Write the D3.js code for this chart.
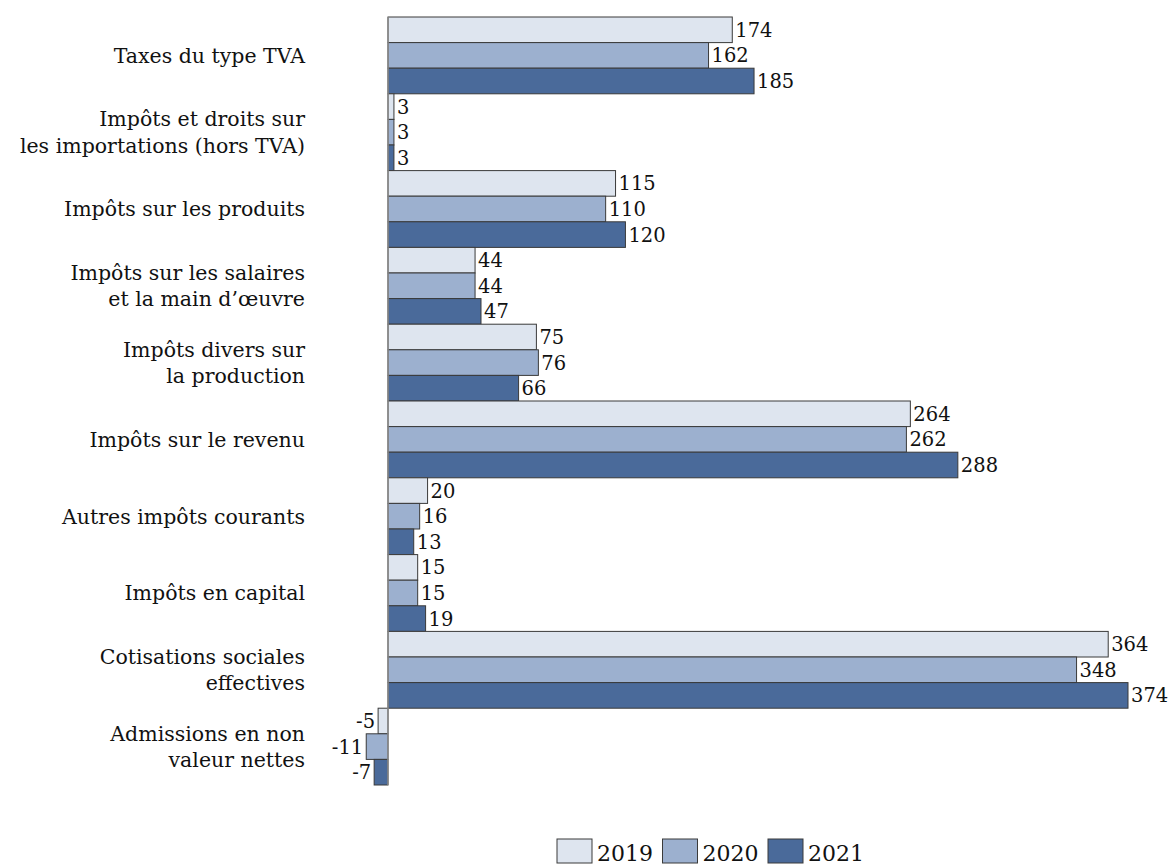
<!DOCTYPE html>
<html>
<head>
<meta charset="utf-8">
<script src="https://cdn.jsdelivr.net/npm/d3@7"></script>
<style>
  html, body { margin: 0; padding: 0; background: #fff; }
  svg { display: block; }
</style>
</head>
<body>
<svg id="chart" width="1174" height="866"></svg>
<script>
// Categories (each label may span two lines)
const categories = [
  ["Taxes du type TVA"],
  ["Impôts et droits sur", "les importations (hors TVA)"],
  ["Impôts sur les produits"],
  ["Impôts sur les salaires", "et la main d\u2019œuvre"],
  ["Impôts divers sur", "la production"],
  ["Impôts sur le revenu"],
  ["Autres impôts courants"],
  ["Impôts en capital"],
  ["Cotisations sociales", "effectives"],
  ["Admissions en non", "valeur nettes"]
];
const years = ["2019", "2020", "2021"];
const values2019 = [174, 3, 115, 44, 75, 264, 20, 15, 364, -5];
const values2020 = [162, 3, 110, 44, 76, 262, 16, 15, 348, -11];
const values2021 = [185, 3, 120, 47, 66, 288, 13, 19, 374, -7];
const seriesValues = [values2019, values2020, values2021];
const colors = ["#dee5ef", "#9cb0cf", "#4a6a9a"];

const FONT = "DejaVu Serif";
const svg = d3.select("#chart");

const x = d3.scaleLinear().domain([0, 374]).range([388, 1128]);
const y0 = d3.scaleBand().domain(d3.range(categories.length)).range([17, 785]).padding(0);
const y1 = d3.scaleBand().domain(d3.range(years.length)).range([0, y0.bandwidth()]).padding(0);

const groups = svg.append("g").selectAll("g")
  .data(categories)
  .join("g")
  .attr("transform", (d, i) => `translate(0,${y0(i)})`);

// Bars and value labels
groups.each(function(cat, i) {
  const g = d3.select(this);
  years.forEach((yr, s) => {
    const v = seriesValues[s][i];
    g.append("rect")
      .attr("x", Math.min(x(0), x(v)))
      .attr("y", y1(s))
      .attr("width", Math.abs(x(v) - x(0)))
      .attr("height", y1.bandwidth())
      .attr("fill", colors[s])
      .attr("stroke", "#3a3a3a")
      .attr("stroke-width", 1);
    g.append("text")
      .attr("x", v >= 0 ? x(v) + 3 : x(v) - 3)
      .attr("y", y1(s) + y1.bandwidth() / 2)
      .attr("dy", "0.36em")
      .attr("text-anchor", v >= 0 ? "start" : "end")
      .style("font-family", FONT)
      .attr("font-size", 19.5)
      .attr("fill", "#111")
      .text(v);
  });
});

// Category axis line
svg.append("line")
  .attr("x1", x(0)).attr("x2", x(0))
  .attr("y1", y0.range()[0]).attr("y2", y0.range()[1])
  .attr("stroke", "#8c8c8c").attr("stroke-width", 1.5);

// Category labels
const lineH = 26.5;
groups.append("text")
  .attr("text-anchor", "end")
  .style("font-family", FONT)
  .attr("font-size", 20.5)
  .attr("fill", "#111")
  .each(function(lines) {
    const t = d3.select(this);
    const cy = y0.bandwidth() / 2;
    lines.forEach((ln, k) => {
      t.append("tspan")
        .attr("x", 305)
        .attr("y", cy + (k - (lines.length - 1) / 2) * lineH)
        .attr("dy", "0.36em")
        .text(ln);
    });
  });

// Legend
const legend = svg.append("g").selectAll("g")
  .data(years)
  .join("g")
  .attr("transform", (d, i) => `translate(${557 + i * 105.5},839)`);
legend.append("rect")
  .attr("width", 35).attr("height", 24)
  .attr("fill", (d, i) => colors[i])
  .attr("stroke", "#3a3a3a");
legend.append("text")
  .attr("x", 40).attr("y", 21.5)
  .style("font-family", FONT)
  .attr("font-size", 22)
  .attr("fill", "#111")
  .text(d => d);
</script>
</body>
</html>
